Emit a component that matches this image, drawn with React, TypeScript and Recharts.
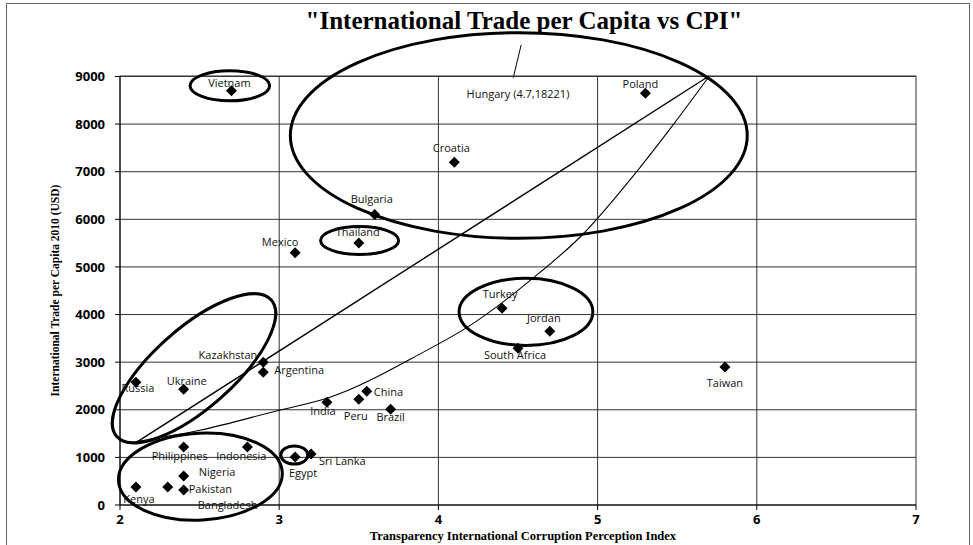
import { ScatterChart, Scatter, XAxis, YAxis, CartesianGrid, ReferenceArea, ReferenceLine, ReferenceDot } from 'recharts';

// countries, CPI score and trade per capita
const countries = ['Vietnam', 'Poland', 'Croatia', 'Bulgaria', 'Thailand', 'Mexico', 'Turkey', 'Jordan', 'South Africa', 'Taiwan', 'Kazakhstan', 'Argentina', 'Russia', 'Ukraine', 'Philippines', 'Indonesia', 'Nigeria', 'Pakistan', 'Bangladesh', 'Kenya', 'Egypt', 'Sri Lanka', 'India', 'Peru', 'China', 'Brazil'];
const cpi = [2.7, 5.3, 4.1, 3.6, 3.5, 3.1, 4.4, 4.7, 4.5, 5.8, 2.9, 2.9, 2.1, 2.4, 2.4, 2.8, 2.4, 2.3, 2.4, 2.1, 3.1, 3.2, 3.3, 3.5, 3.55, 3.7];
const tradePerCapita = [8700, 8650, 7200, 6100, 5500, 5300, 4130, 3650, 3290, 2900, 3000, 2790, 2580, 2430, 1220, 1220, 610, 380, 315, 380, 1010, 1070, 2160, 2220, 2390, 2010];

// trend lines as drawn in the picture
const linearTrendX = [2.1, 5.7];
const linearTrendY = [1310, 9010];
const curveTrendX = [2.1, 2.5, 3.0, 3.3, 3.9, 4.18, 4.6, 4.9, 5.25, 5.48, 5.7];
const curveTrendY = [1330, 1570, 1990, 2240, 3200, 3730, 4780, 5660, 7020, 8010, 9000];

const xTicks = [2, 3, 4, 5, 6, 7];
const yTicks = [0, 1000, 2000, 3000, 4000, 5000, 6000, 7000, 8000, 9000];

const points = countries.map((name, i) => ({ name, x: cpi[i], y: tradePerCapita[i] }));
const linearTrend = linearTrendX.map((x, i) => ({ x, y: linearTrendY[i] }));
const curveTrend = curveTrendX.map((x, i) => ({ x, y: curveTrendY[i] }));

// hand drawn circles (box in data units, rotation in degrees)
const circles = [
  { x1: 2.44, x2: 2.94, y1: 8490, y2: 9120, angle: 0 },
  { x1: 3.07, x2: 5.94, y1: 5600, y2: 9920, angle: 0 },
  { x1: 3.26, x2: 3.75, y1: 5260, y2: 5850, angle: 0 },
  { x1: 4.13, x2: 4.97, y1: 3350, y2: 4760, angle: 0 },
  { x1: 1.817, x2: 3.113, y1: 2033, y2: 3711, angle: -41.5 },
  { x1: 1.99, x2: 3.02, y1: -315, y2: 1510, angle: -3 },
  { x1: 3.01, x2: 3.18, y1: 860, y2: 1240, angle: 0 },
];

const labelPlacement: Record<string, { dx: number; dy: number; anchor?: string }> = {
  Vietnam: { dx: -2, dy: -8 },
  Poland: { dx: -5, dy: -10 },
  Croatia: { dx: -3, dy: -15 },
  Bulgaria: { dx: -3, dy: -16 },
  Thailand: { dx: -1, dy: -12 },
  Mexico: { dx: -15, dy: -11 },
  Turkey: { dx: -2, dy: -15 },
  Jordan: { dx: -6, dy: -14 },
  'South Africa': { dx: -3, dy: 6 },
  Taiwan: { dx: 0, dy: 16 },
  Kazakhstan: { dx: -6, dy: -8, anchor: 'end' },
  Argentina: { dx: 11, dy: -3, anchor: 'start' },
  Russia: { dx: 2, dy: 5 },
  Ukraine: { dx: 3, dy: -9 },
  Philippines: { dx: -4, dy: 9 },
  Indonesia: { dx: -6, dy: 9 },
  Nigeria: { dx: 15, dy: -4, anchor: 'start' },
  Pakistan: { dx: 21, dy: 2, anchor: 'start' },
  Bangladesh: { dx: 14, dy: 14, anchor: 'start' },
  Kenya: { dx: 3, dy: 12 },
  Egypt: { dx: 8, dy: 16 },
  'Sri Lanka': { dx: 8, dy: 6, anchor: 'start' },
  India: { dx: -4, dy: 8 },
  Peru: { dx: -3, dy: 16 },
  China: { dx: 7, dy: 0, anchor: 'start' },
  Brazil: { dx: 0, dy: 7 },
};

const labelFont = { fontFamily: 'Open Sans', fontSize: 11, fill: '#111' };
const tickFont = { fontFamily: 'Open Sans', fontSize: 13, fontWeight: 700, fill: '#000' };

const Diamond = (props: any) => {
  const { cx, cy, payload } = props;
  const p = labelPlacement[payload.name] || { dx: 0, dy: -12 };
  const s = 5.5;
  return (
    <g>
      <polygon points={`${cx},${cy - s} ${cx + s},${cy} ${cx},${cy + s} ${cx - s},${cy}`} fill="#000" />
      <text x={cx + p.dx} y={cy + p.dy} textAnchor={p.anchor || 'middle'} dominantBaseline="central" {...labelFont}>
        {payload.name}
      </text>
    </g>
  );
};

const noDot = () => <g />;

const ellipseShape = (angle: number) => (props: any) => {
  const { x, y, width, height } = props;
  const cx = x + width / 2;
  const cy = y + height / 2;
  return (
    <ellipse cx={cx} cy={cy} rx={Math.abs(width) / 2} ry={Math.abs(height) / 2}
      transform={`rotate(${angle} ${cx} ${cy})`} fill="none" stroke="#000" strokeWidth={3} />
  );
};

export default function App() {
  return (
    <div style={{ position: 'absolute', left: 0, top: 0, width: 973, height: 545, overflow: 'hidden', background: '#fff' }}>
      <div style={{ position: 'absolute', left: 6, top: 3, width: 962, height: 560, border: '1px solid #666' }} />
      <div style={{ position: 'absolute', left: 524, top: 7, transform: 'translateX(-50%)', whiteSpace: 'nowrap', fontFamily: 'Liberation Serif', fontWeight: 700, fontSize: 25, color: '#000' }}>
        "International Trade per Capita vs CPI"
      </div>
      <div style={{ position: 'absolute', left: 0, top: 0 }}>
        <ScatterChart width={973} height={545} margin={{ top: 76, right: 57, bottom: 0, left: 60 }}>
          <CartesianGrid stroke="#333" strokeWidth={1} />
          <XAxis type="number" dataKey="x" domain={[2, 7]} ticks={xTicks} height={40}
            tick={tickFont} tickSize={5} tickMargin={5} stroke="#000"
            label={{ value: 'Transparency International Corruption Perception Index', position: 'insideBottom', offset: 5, dx: 5, style: { fontFamily: 'Liberation Serif', fontWeight: 700, fontSize: 12.5, fill: '#000' } }} />
          <YAxis type="number" dataKey="y" domain={[0, 9000]} ticks={yTicks} width={60}
            tick={tickFont} tickSize={5} tickMargin={10} stroke="#000"
            label={{ value: 'International Trade per Capita 2010 (USD)', angle: -90, position: 'insideLeft', offset: -5, style: { textAnchor: 'middle', fontFamily: 'Liberation Serif', fontWeight: 700, fontSize: 11.5, fill: '#000' } }} />
          {circles.map((c, i) => (
            <ReferenceArea key={i} x1={c.x1} x2={c.x2} y1={c.y1} y2={c.y2} ifOverflow="visible" shape={ellipseShape(c.angle)} />
          ))}
          <Scatter data={linearTrend} line={{ stroke: '#000', strokeWidth: 1.4 }} lineType="joint" shape={noDot} isAnimationActive={false} />
          <Scatter data={curveTrend} line={{ stroke: '#000', strokeWidth: 1.1 }} lineType="joint" lineJointType="monotoneX" shape={noDot} isAnimationActive={false} />
          <Scatter data={points} shape={Diamond} isAnimationActive={false} />
          <ReferenceLine segment={[{ x: 4.47, y: 8970 }, { x: 4.52, y: 9665 }]} stroke="#000" strokeWidth={1} ifOverflow="visible" />
          <ReferenceDot x={4.5} y={8640} r={0} ifOverflow="visible" stroke="none" fill="none"
            label={{ value: 'Hungary (4.7,18221)', position: 'center', ...labelFont }} />
        </ScatterChart>
      </div>
    </div>
  );
}
